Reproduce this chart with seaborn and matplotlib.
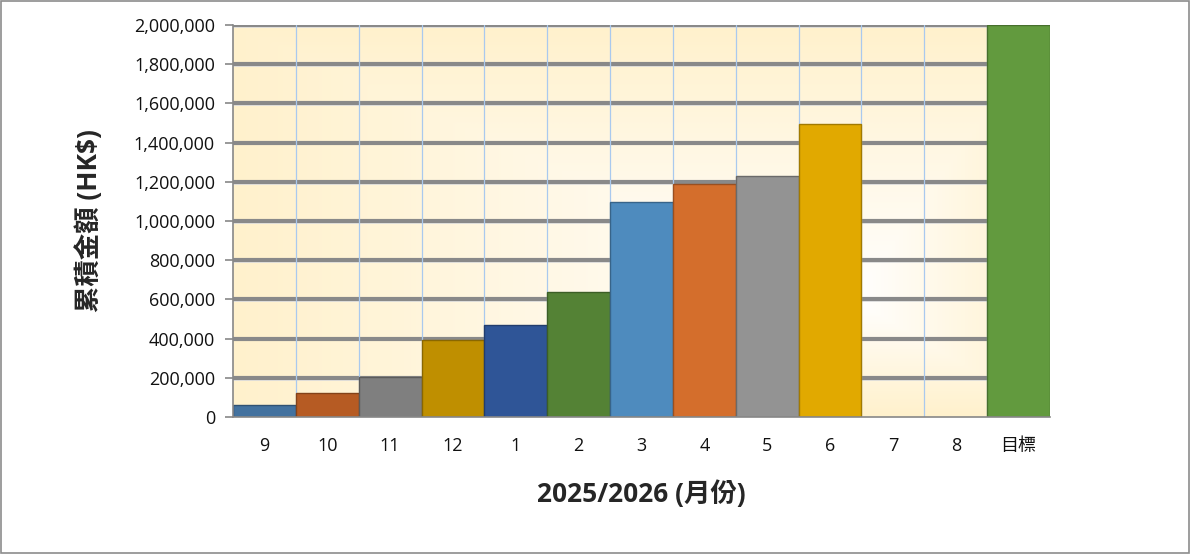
import numpy as np
import pandas as pd
import matplotlib
matplotlib.use('Agg')
import matplotlib.pyplot as plt
import matplotlib.colors as mcolors
from matplotlib.ticker import FuncFormatter
import seaborn as sns

# chart data
months = ['9', '10', '11', '12', '1', '2', '3', '4', '5', '6', '7', '8', '目標']
amounts = [60000, 120000, 205000, 395000, 470000, 638000, 1097000,
           1190000, 1230000, 1495000, 0, 0, 2000000]
bar_colors = ['#43729F', '#B65B23', '#7F7F7F', '#BF8F00', '#2F5597', '#548235',
              '#4E8BBE', '#D46E2C', '#939393', '#E1A900', '#FFFFFF', '#FFFFFF', '#629A3E']

df = pd.DataFrame({'month': months, 'amount': amounts})

sns.set_style('white')
plt.rcParams['font.family'] = ['Open Sans', 'Noto Sans CJK TC', 'DejaVu Sans']

fig = plt.figure(figsize=(11.91, 5.54), dpi=100)
ax = fig.add_axes([233 / 1191, 1 - 417 / 554, 817 / 1191, 392 / 554])

# gradient background (white centre, pale yellow towards the edges)
ny, nx = 200, 400
xs = np.linspace(0, 1, nx)
ys = np.linspace(0, 1, ny)
X, Y = np.meshgrid(xs, ys)
cx, cy = 0.76, 0.3
dx = np.where(X < cx, (cx - X) / cx, (X - cx) / (1 - cx))
dy = np.where(Y < cy, (cy - Y) / cy, (Y - cy) / (1 - cy))
t = np.clip(np.maximum(dx, dy), 0, 1)
edge_rgb = np.array(mcolors.to_rgb('#FFF1CC'))
img = (1 - t[..., None]) * np.ones(3) + t[..., None] * edge_rgb
ax.imshow(img, extent=[-0.5, len(months) - 0.5, 0, 2000000], origin='lower',
          aspect='auto', zorder=0, interpolation='bilinear')

# grid lines
for yv in range(200000, 2000001, 200000):
    ax.axhline(yv - 9000, color='#E2E2E2', lw=1.2, zorder=1)
    ax.axhline(yv, color='#898989', lw=3.0, zorder=1.5)
for xv in np.arange(0.5, len(months) - 1, 1):
    ax.axvline(xv, color='#A9C9EE', lw=0.9, zorder=1.6)

edge_colors = [tuple(np.array(mcolors.to_rgb(c)) * 0.72) for c in bar_colors]
sns.barplot(data=df, x='month', y='amount', hue='month', palette=bar_colors,
            width=1.0, legend=False, ax=ax, zorder=3, saturation=1)
for patch, ec, val in zip(ax.patches, edge_colors, amounts):
    patch.set_edgecolor(ec)
    patch.set_linewidth(1.0)
    if val == 0:
        patch.set_visible(False)

ax.set_xlim(-0.5, len(months) - 0.5)
ax.set_ylim(0, 2000000)
ax.set_yticks(range(0, 2000001, 200000))
ax.yaxis.set_major_formatter(FuncFormatter(lambda v, p: f'{int(v):,}'))

for side in ['top', 'right']:
    ax.spines[side].set_visible(False)
for side in ['left', 'bottom']:
    ax.spines[side].set_color('#888888')
    ax.spines[side].set_linewidth(1.2)
    ax.spines[side].set_zorder(4)

ax.tick_params(axis='y', which='major', left=True, length=6, width=1.2,
               color='#888888', labelsize=13, pad=7, labelcolor='#111111')
ax.tick_params(axis='x', bottom=False, labelsize=13, pad=11, labelcolor='#111111')

ax.set_xlabel('2025/2026 (月份)', fontsize=19, fontweight='bold', labelpad=18)
ax.set_ylabel('累積金額 (HK$)', fontsize=19, fontweight='bold', labelpad=22)

# outer chart border
fig.patches.append(plt.Rectangle((0.0005, 0.001), 0.998, 0.997, transform=fig.transFigure,
                                 fill=False, edgecolor='#8C8C8C', lw=1.2))

fig.savefig('out.png', dpi=100)
